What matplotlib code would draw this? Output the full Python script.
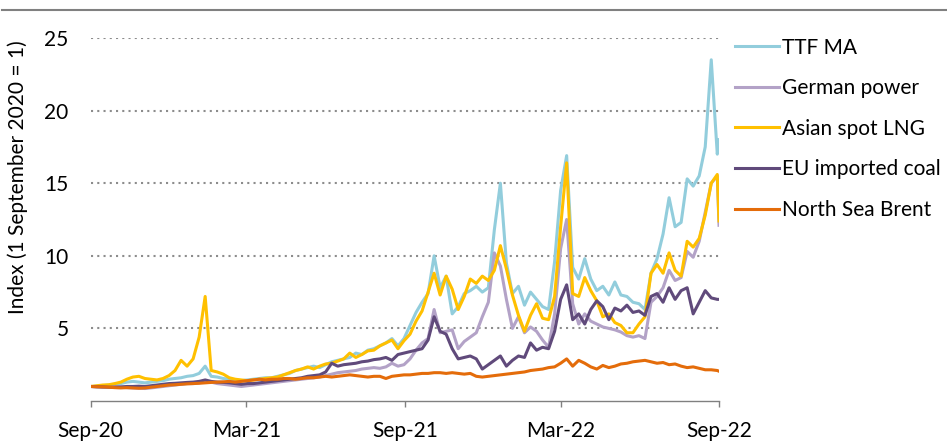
import matplotlib
matplotlib.use('Agg')
from matplotlib import pyplot as plt
from matplotlib.lines import Line2D
import matplotlib.dates as mdates
import pandas as pd

# weekly observations, index 1 September 2020 = 1
dates = list(pd.date_range('2020-09-01', '2022-08-30', freq='7D')) + [pd.Timestamp('2022-09-01')]

ttf_ma = [1.0, 1.02, 1.05, 1.1, 1.15, 1.2, 1.3, 1.35, 1.3, 1.25, 1.3, 1.35, 1.4, 1.5, 1.55,
          1.6, 1.7, 1.75, 1.9, 2.4, 1.7, 1.65, 1.55, 1.5, 1.45, 1.4, 1.45,
          1.5, 1.55, 1.6, 1.6, 1.7, 1.8, 1.9, 2.1, 2.2, 2.3, 2.4, 2.3, 2.5, 2.7, 2.8,
          2.9, 3.0, 3.3, 3.2, 3.5, 3.6, 3.8, 4.0, 4.3, 3.8, 4.3,
          5.2, 6.1, 6.8, 7.4, 10.0, 7.8, 8.6, 6.0, 6.5, 7.4, 7.6, 7.9, 7.5, 7.8, 11.8,
          15.0, 9.5, 7.4, 7.9, 6.6, 7.5, 7.0, 6.5, 6.3, 9.6, 14.5,
          16.9, 9.2, 8.4, 9.8, 8.4, 7.6, 7.9, 7.3, 8.2, 7.3, 7.2, 6.8, 6.7, 6.3, 8.8,
          9.8, 11.5, 14.0, 12.0, 12.3, 15.3, 14.8, 15.5, 17.5, 23.5, 17.0, 18.0]

german_power = [1.0, 0.98, 0.95, 1.0, 1.0, 0.95, 0.92, 0.9, 0.88, 0.86, 0.9, 0.95, 1.0, 1.05, 1.1,
                1.15, 1.2, 1.2, 1.25, 1.35, 1.3, 1.2, 1.15, 1.1, 1.05, 1.0, 1.05,
                1.1, 1.15, 1.2, 1.25, 1.3, 1.35, 1.4, 1.45, 1.5, 1.55, 1.6, 1.65, 1.75, 1.85, 1.95,
                2.0, 2.05, 2.1, 2.2, 2.25, 2.3, 2.25, 2.35, 2.6, 2.4, 2.5,
                2.9, 3.5, 4.0, 4.3, 6.3, 4.7, 4.8, 4.9, 3.6, 4.1, 4.4, 4.7, 5.8, 6.8, 10.2,
                9.3, 7.0, 5.0, 5.8, 4.7, 5.1, 4.8, 4.2, 3.7, 6.0, 10.5,
                12.5, 6.7, 5.3, 6.0, 5.5, 5.3, 5.1, 5.0, 4.9, 4.75, 4.5, 4.4, 4.5, 4.3, 6.8,
                7.2, 7.8, 9.0, 8.3, 8.5, 10.3, 9.9, 11.0, 13.0, 15.0, 15.5, 12.1]

asian_lng = [1.0, 1.05, 1.1, 1.12, 1.2, 1.3, 1.5, 1.65, 1.7, 1.55, 1.5, 1.45, 1.55, 1.75, 2.1,
             2.8, 2.4, 2.9, 4.4, 7.2, 2.1, 2.0, 1.85, 1.6, 1.5, 1.45, 1.4,
             1.45, 1.5, 1.55, 1.6, 1.65, 1.8, 1.95, 2.1, 2.2, 2.35, 2.2, 2.4, 2.55, 2.6, 2.75,
             2.9, 3.3, 3.0, 3.2, 3.45, 3.5, 3.8, 4.0, 4.2, 3.6, 4.15,
             4.6, 5.5, 6.2, 7.5, 8.8, 7.3, 8.6, 7.7, 6.3, 7.2, 8.4, 8.1, 8.6, 8.3, 9.0,
             10.7, 9.1, 7.3, 5.9, 4.8, 5.9, 6.7, 5.7, 5.6, 7.2, 12.0,
             16.4, 7.4, 7.2, 8.5, 7.6, 6.9, 5.8, 6.0, 5.4, 5.2, 4.7, 4.7, 5.3, 5.8, 8.8,
             9.4, 8.8, 10.2, 9.0, 8.6, 11.0, 10.6, 11.2, 12.8, 15.0, 15.6, 12.4]

eu_coal = [1.0, 0.98, 0.97, 0.95, 0.95, 0.97, 1.0, 1.0, 1.02, 1.0, 1.05, 1.1, 1.15, 1.2, 1.22,
           1.25, 1.28, 1.3, 1.35, 1.45, 1.35, 1.3, 1.28, 1.25, 1.2, 1.15, 1.2,
           1.2, 1.25, 1.3, 1.35, 1.4, 1.45, 1.5, 1.55, 1.6, 1.7, 1.75, 1.8, 2.0, 2.6, 2.4,
           2.5, 2.55, 2.6, 2.7, 2.75, 2.85, 2.9, 3.0, 2.8, 3.2, 3.3,
           3.4, 3.5, 3.6, 4.2, 5.8, 4.8, 4.6, 3.6, 2.9, 3.0, 3.1, 2.9, 2.2, 2.5, 2.8,
           3.1, 2.4, 2.8, 3.1, 3.0, 4.0, 3.5, 3.7, 3.6, 4.8, 7.0,
           8.0, 5.6, 6.0, 5.3, 6.3, 6.9, 6.5, 5.6, 6.4, 6.2, 6.6, 6.1, 6.2, 5.9, 7.2,
           7.4, 6.8, 7.8, 7.0, 7.6, 7.8, 6.0, 6.8, 7.6, 7.1, 7.0, 7.0]

brent = [1.0, 0.98, 0.97, 0.95, 0.92, 0.9, 0.92, 0.9, 0.88, 0.9, 0.95, 1.0, 1.05, 1.1, 1.12,
         1.15, 1.18, 1.2, 1.22, 1.25, 1.28, 1.3, 1.32, 1.35, 1.3, 1.35, 1.4,
         1.45, 1.5, 1.45, 1.5, 1.5, 1.55, 1.55, 1.5, 1.55, 1.6, 1.6, 1.65, 1.7, 1.65, 1.7,
         1.75, 1.8, 1.75, 1.7, 1.65, 1.7, 1.7, 1.55, 1.7, 1.75, 1.8,
         1.8, 1.85, 1.9, 1.9, 1.95, 1.95, 1.9, 1.95, 1.9, 1.85, 1.9, 1.7, 1.65, 1.7, 1.75,
         1.8, 1.85, 1.9, 1.95, 2.0, 2.1, 2.15, 2.2, 2.3, 2.35, 2.6,
         2.9, 2.4, 2.8, 2.6, 2.35, 2.2, 2.45, 2.3, 2.4, 2.55, 2.6, 2.7, 2.75, 2.8, 2.7,
         2.6, 2.65, 2.5, 2.55, 2.4, 2.3, 2.35, 2.25, 2.15, 2.15, 2.1, 2.05]

series = [
    ('TTF MA', ttf_ma, '#92CDDC'),
    ('German power', german_power, '#B3A2C7'),
    ('Asian spot LNG', asian_lng, '#FFC000'),
    ('EU imported coal', eu_coal, '#604A7B'),
    ('North Sea Brent', brent, '#E46C0A'),
]

tick_dates = pd.to_datetime(['2020-09-01', '2021-03-01', '2021-09-01', '2022-03-01', '2022-09-01'])

plt.rcParams['font.family'] = ['Lato', 'DejaVu Sans']
plt.rcParams['font.size'] = 15

fig = plt.figure(figsize=(9.47, 4.46), dpi=100)
ax = fig.add_axes([90.7 / 947, 1 - 401 / 446, (719 - 90.7) / 947, (401 - 38) / 446])

for label, values, color in series:
    ax.plot(dates, values, color=color, linewidth=2.2, label=label, solid_joinstyle='round')

ax.set_xlim(tick_dates[0], tick_dates[-1])
ax.set_ylim(0, 25)
ax.set_yticks([5, 10, 15, 20, 25])
ax.set_xticks(tick_dates)
ax.xaxis.set_major_formatter(mdates.DateFormatter('%b-%y'))

ax.grid(True, axis='y', color='#8c8c8c', linestyle=(0, (1, 2)), linewidth=1.5)
ax.set_axisbelow(True)
for side in ['top', 'right', 'left']:
    ax.spines[side].set_visible(False)
ax.spines['bottom'].set_color('#808080')
ax.spines['bottom'].set_linewidth(1.0)
ax.tick_params(axis='y', length=0, pad=16)
ax.tick_params(axis='x', length=4.5, width=1.0, color='#808080', pad=10)

fig.text(18 / 947, 1 - 177.5 / 446, 'Index (1 September 2020 = 1)', rotation=90,
         ha='center', va='center', fontsize=15)

# grey rule across the top
fig.add_artist(Line2D([2 / 947, 1], [1 - 10 / 446, 1 - 10 / 446], transform=fig.transFigure,
                      color='#808080', linewidth=1.5))

ax.legend(loc='upper left', bbox_to_anchor=(735 / 947, 1 - 37.5 / 446), bbox_transform=fig.transFigure,
          frameon=False, handlelength=2.1, handletextpad=0.15, labelspacing=0.99, borderpad=0,
          borderaxespad=0)

plt.savefig('out.png', dpi=100)
